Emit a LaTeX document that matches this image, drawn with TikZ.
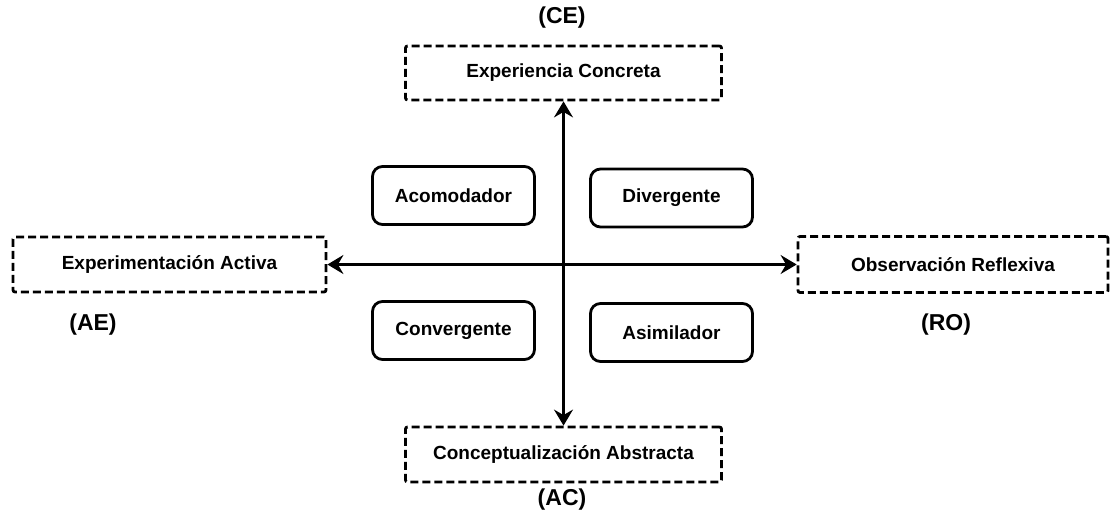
\documentclass[tikz,border=0pt]{standalone}
\usepackage{fontspec}
\setmainfont{Liberation Sans}
\usetikzlibrary{arrows.meta}
\begin{document}
\begin{tikzpicture}[x=1pt,y=-1pt,
  dashbox/.style={draw, line width=2.8pt, dash pattern=on 8pt off 4pt, rounded corners=2pt,
    inner sep=0pt, font=\fontsize{19}{21}\selectfont\bfseries},
  stylebox/.style={draw, line width=2.8pt, rounded corners=10pt, inner sep=0pt,
    minimum width=162pt, minimum height=58pt, font=\fontsize{19}{21}\selectfont\bfseries},
  tag/.style={font=\fontsize{23}{25}\selectfont\bfseries, inner sep=0pt},
  axis/.style={line width=3.2pt, {Stealth[length=16pt,width=19pt,inset=5.5pt]}-{Stealth[length=16pt,width=19pt,inset=5.5pt]}}]
\useasboundingbox (0,0) rectangle (1110,519);
\node[dashbox, minimum width=316pt, minimum height=54pt] (CE) at (563.5,73) {Experiencia Concreta};
\node[dashbox, minimum width=313pt, minimum height=55pt] (AE) at (169.5,264.5) {Experimentación Activa};
\node[dashbox, minimum width=310pt, minimum height=56pt] (RO) at (953,264.5) {Observación Reflexiva};
\node[dashbox, minimum width=316pt, minimum height=55pt] (AC) at (563.5,454.5) {Conceptualización Abstracta};
\node[tag] (tCE) at (562,18) {(CE)};
\node[tag] (tAE) at (93,325) {(AE)};
\node[tag] (tRO) at (946,325) {(RO)};
\node[tag] (tAC) at (562,500) {(AC)};
\node[stylebox] (aco) at (453.5,195.5) {Acomodador};
\node[stylebox] (div) at (671.5,198) {Divergente};
\node[stylebox] (con) at (453.5,330.5) {Convergente};
\node[stylebox] (asi) at (671.5,332.5) {Asimilador};
\draw[axis] (CE.south) -- (AC.north);
\draw[axis] (AE.east) -- (RO.west);
\end{tikzpicture}
\end{document}
